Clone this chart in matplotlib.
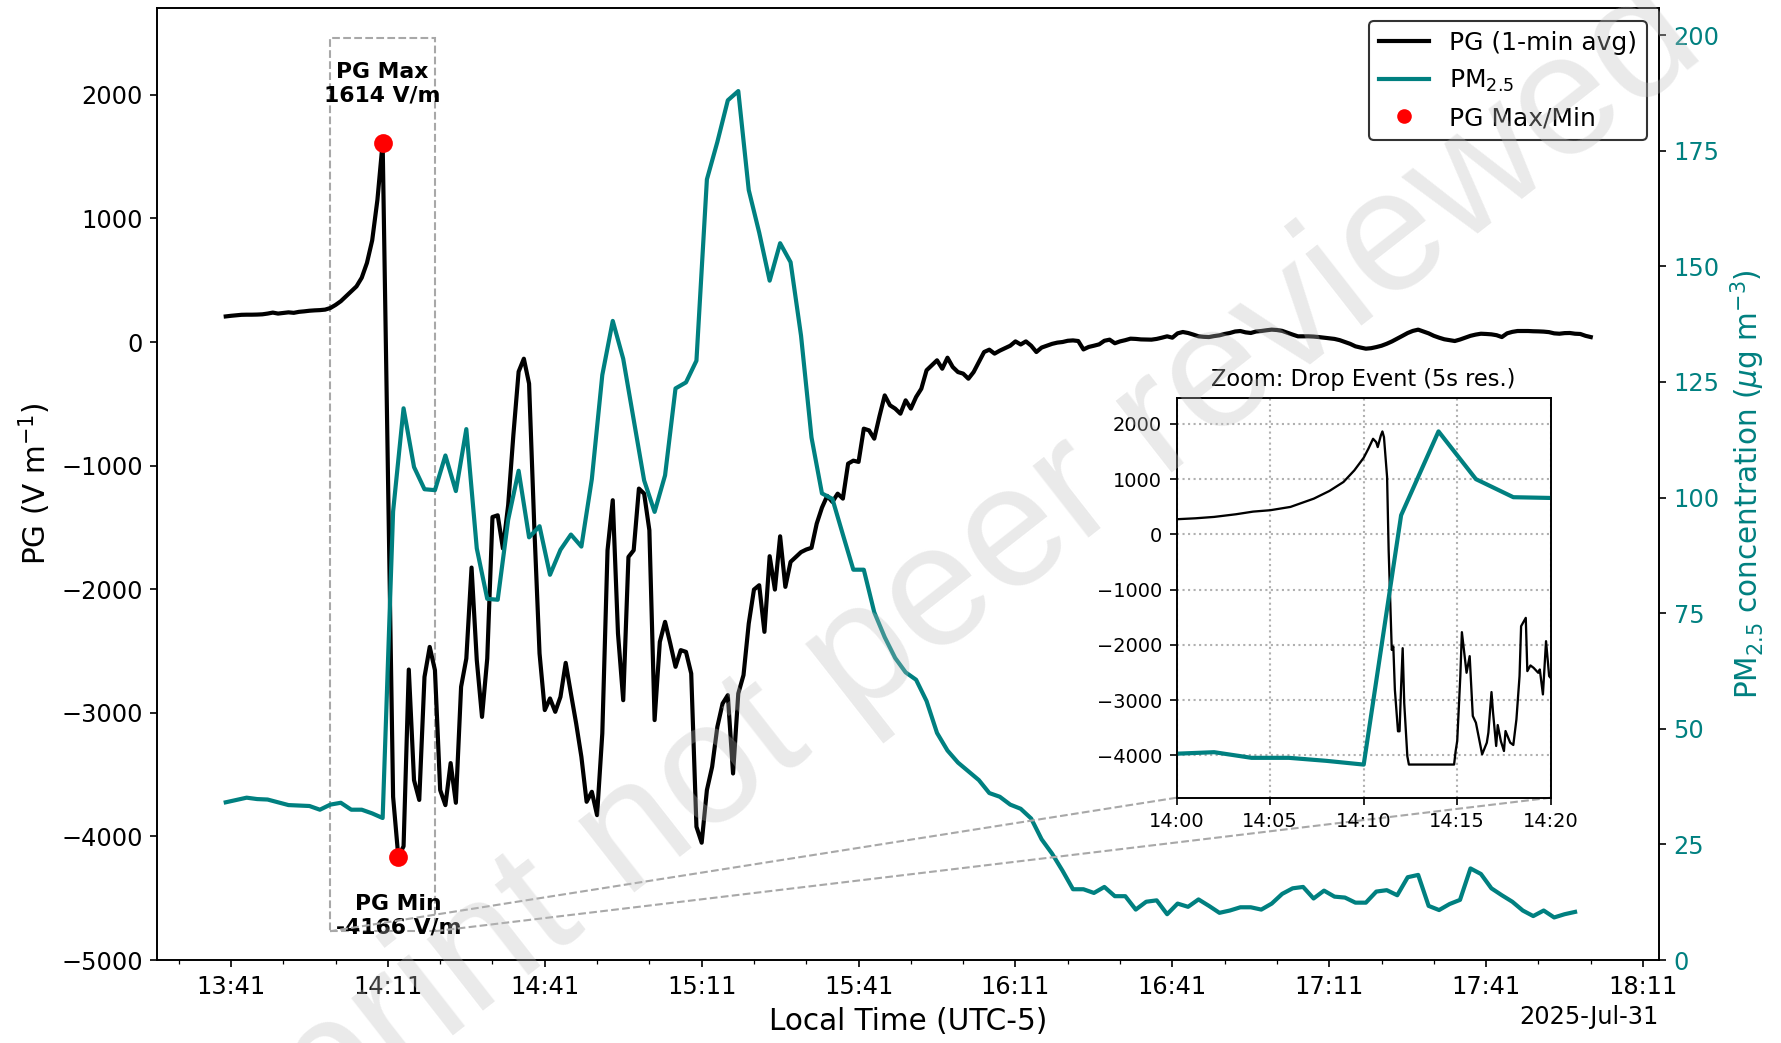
import numpy as np
import pandas as pd
import matplotlib
matplotlib.use("Agg")
import matplotlib.pyplot as plt
import matplotlib.dates as mdates
from matplotlib.lines import Line2D
from matplotlib.ticker import MultipleLocator
from mpl_toolkits.axes_grid1.inset_locator import mark_inset

# ---------------- data ----------------
pg_start = "2025-07-31 13:40"          # 1-min averaged PG, V/m
pg_values = [
    207, 212, 216, 220, 221, 221, 222, 224, 230, 238,
    230, 235, 240, 236, 244, 248, 253, 256, 258, 262,
    275, 300, 330, 370, 410, 450, 520, 640, 822, 1150,
    1614, -1030, -3680, -4166, -4080, -2650, -3545, -3705, -2710, -2467,
    -2655, -3625, -3747, -3407, -3728, -2790, -2561, -1825, -2574, -3033,
    -2561, -1416, -1402, -1671, -1320, -750, -240, -135, -337, -1500,
    -2520, -2978, -2884, -2992, -2871, -2596, -2844, -3086, -3356, -3720,
    -3639, -3828, -3167, -1685, -1280, -2359, -2898, -1739, -1685, -1186,
    -1227, -1523, -3059, -2426, -2264, -2440, -2628, -2493, -2507, -2682,
    -3922, -4051, -3625, -3437, -3113, -2925, -2857, -3491, -2844, -2695,
    -2278, -2003, -1968, -2345, -1733, -2003, -1572, -1981, -1779, -1739,
    -1700, -1679, -1665, -1469, -1340, -1245, -1294, -1227, -1267, -984,
    -960, -970, -701, -715, -782, -600, -432, -512, -539, -580,
    -472, -539, -445, -378, -229, -189, -148, -216, -127, -202,
    -243, -256, -297, -243, -162, -81, -62, -94, -70, -50,
    -30, 5, -20, 5, -30, -81, -45, -30, -15, -5,
    0, 10, 13, 8, -60, -40, -30, -19, 10, 19,
    -10, 5, 15, 27, 25, 21, 20, 19, 25, 35,
    46, 35, 70, 81, 73, 60, 46, 42, 40, 48,
    54, 65, 73, 85, 89, 78, 73, 85, 89, 95,
    100, 97, 90, 75, 60, 46, 46, 46, 44, 40,
    35, 30, 25, 15, 0, -15, -35, -45, -54, -50,
    -41, -30, -14, 5, 27, 50, 73, 90, 100, 85,
    70, 50, 35, 22, 15, 8, 20, 35, 50, 60,
    67, 65, 62, 55, 40, 70, 82, 89, 89, 89,
    87, 86, 84, 80, 70, 67, 72, 73, 67, 65,
    50, 40,
]

pm_start = "2025-07-31 13:40"          # PM2.5 every 2 min, ug/m3
pm_values = [
    34.1, 34.6, 35.1, 34.8, 34.7, 34.1, 33.5, 33.4, 33.3, 32.5,
    33.6, 34.0, 32.5, 32.5, 31.7, 30.7, 97.0, 119.3, 106.6, 101.8,
    101.6, 109.1, 101.4, 114.8, 89.0, 78.1, 77.9, 95.2, 105.8, 91.4,
    93.8, 83.3, 88.7, 92.0, 89.4, 104.0, 126.5, 138.2, 130.0, 116.8,
    103.7, 96.9, 104.8, 123.6, 124.9, 129.6, 168.8, 176.9, 185.9, 187.9,
    166.5, 157.3, 146.9, 155.0, 150.9, 135.0, 113.0, 100.9, 99.7, 92.0,
    84.4, 84.4, 75.2, 69.8, 65.3, 62.2, 60.6, 56.0, 49.1, 45.3,
    42.7, 40.8, 38.9, 36.1, 35.3, 33.6, 32.7, 30.6, 26.1, 23.0,
    19.3, 15.3, 15.3, 14.5, 15.8, 13.8, 13.8, 10.9, 12.6, 12.9,
    9.9, 12.2, 11.5, 13.1, 11.7, 10.2, 10.7, 11.4, 11.4, 10.9,
    12.2, 14.3, 15.5, 15.8, 13.3, 15.0, 13.7, 13.5, 12.4, 12.4,
    14.8, 15.1, 14.0, 17.9, 18.4, 11.7, 10.8, 12.1, 13.0, 19.8,
    18.6, 15.5, 14.0, 12.6, 10.7, 9.5, 10.7, 9.2, 9.9, 10.4,
]

zoom_start = "2025-07-31 14:00"        # 5-s PG during the drop event
zoom_seconds = [
    0, 60, 120, 190, 245, 300, 365, 440, 490, 535,
    570, 600, 615, 630, 640, 645, 655, 660, 665, 675,
    680, 690, 695, 700, 710, 715, 720, 725, 730, 740,
    745, 890, 895, 900, 910, 915, 930, 940, 950, 960,
    980, 995, 1000, 1010, 1015, 1025, 1030, 1040, 1050, 1055,
    1070, 1080, 1090, 1100, 1105, 1120, 1125, 1135, 1145, 1160,
    1165, 1175, 1185, 1195, 1200,
]
zoom_pg = [
    273, 290, 315, 363, 411, 436, 496, 646, 785, 947,
    1158, 1386, 1549, 1729, 1669, 1579, 1789, 1862, 1759, 1037,
    -287, -2092, -2031, -2814, -3565, -3565, -2753, -2061, -3054, -4017,
    -4167, -4167, -3922, -3741, -2566, -1771, -2506, -2205, -3289, -3410,
    -3982, -3771, -3590, -2855, -3229, -3831, -3452, -3741, -3922, -3560,
    -3771, -3813, -3349, -2566, -1663, -1512, -2476, -2373, -2416, -2506,
    -2446, -2898, -1934, -2566, -2600,
]

# ---------------- style ----------------
plt.rcParams["font.family"] = ["DejaVu Sans"]
plt.rcParams["xtick.labelsize"] = 11.5
plt.rcParams["ytick.labelsize"] = 11.5

TEAL = "teal"

pg = np.array(pg_values, dtype=float)
pm = np.array(pm_values, dtype=float)
zpg = np.array(zoom_pg, dtype=float)
pg_t = mdates.date2num(pd.date_range(pg_start, periods=len(pg), freq="1min").to_pydatetime())
pm_t = mdates.date2num(pd.date_range(pm_start, periods=len(pm), freq="2min").to_pydatetime())
z0 = pd.Timestamp(zoom_start)
zoom_t = mdates.date2num([(z0 + pd.Timedelta(seconds=s)).to_pydatetime() for s in zoom_seconds])

fig = plt.figure(figsize=(11.8734, 6.9534), dpi=150)
ax1 = fig.add_axes([0.08843, 0.07958, 0.84307, 0.91246])

ax1.plot(pg_t, pg, color="black", lw=2, zorder=2)
imax, imin = int(np.argmax(pg)), int(np.argmin(pg))
ax1.scatter([pg_t[imax], pg_t[imin]], [pg[imax], pg[imin]], s=64, color="red", zorder=5)
ax1.annotate(f"PG Max\n{pg[imax]:.0f} V/m", xy=(pg_t[imax], pg[imax]), xytext=(0, 18),
             textcoords="offset points", ha="center", va="bottom",
             fontsize=10.5, fontweight="bold", multialignment="center")
ax1.annotate(f"PG Min\n{pg[imin]:.0f} V/m", xy=(pg_t[imin], pg[imin]), xytext=(0, -18),
             textcoords="offset points", ha="center", va="top",
             fontsize=10.5, fontweight="bold", multialignment="center")
ax1.set_ylim(-5000, 2700)
ax1.set_ylabel("PG (V m$^{-1}$)", fontsize=14.2)
ax1.set_xlabel("Local Time (UTC-5)", fontsize=14.2)

major = mdates.MinuteLocator(byminute=[11, 41])
ax1.xaxis.set_major_locator(major)
ax1.xaxis.set_minor_locator(mdates.MinuteLocator(byminute=[1, 11, 21, 31, 41, 51]))
ax1.xaxis.set_major_formatter(mdates.ConciseDateFormatter(major))

ax2 = ax1.twinx()
ax2.plot(pm_t, pm, color=TEAL, lw=2)
ax2.set_ylim(0, 205.8)
ax2.yaxis.set_major_locator(MultipleLocator(25))
ax2.tick_params(axis="y", labelcolor=TEAL)
ax2.set_ylabel("PM$_{2.5}$ concentration ($\\mu$g m$^{-3}$)", color=TEAL, fontsize=14.2)

handles = [Line2D([], [], color="black", lw=2),
           Line2D([], [], color=TEAL, lw=2),
           Line2D([], [], marker="o", ls="none", color="red", markersize=6)]
labels = ["PG (1-min avg)", "PM$_{2.5}$", "PG Max/Min"]
ax2.legend(handles, labels, loc="upper right", fontsize=12, edgecolor="black")

# ---------------- inset ----------------
axins = fig.add_axes([0.66070, 0.23519, 0.20999, 0.38293])
axins.plot(zoom_t, zpg, color="black", lw=1.1)
axins.set_xlim(zoom_t[0], zoom_t[-1])
axins.set_ylim(zpg.min() - 600, zpg.max() + 600)
axins.grid(True, linestyle=":", color="#b0b0b0", lw=1.0)
axins.xaxis.set_major_locator(mdates.MinuteLocator(byminute=range(0, 60, 5)))
axins.xaxis.set_major_formatter(mdates.DateFormatter("%H:%M"))
axins.tick_params(labelsize=9.3)
axins.set_title("Zoom: Drop Event (5s res.)", fontsize=10.8)
axins2 = axins.twinx()
axins2.plot(pm_t, pm, color=TEAL, lw=2)
axins2.set_xlim(zoom_t[0], zoom_t[-1])
axins2.set_ylim(21.9, 128.1)
axins2.set_yticks([])

mark_inset(ax1, axins, loc1=3, loc2=4, fc="none", ec="#a8a8a8", ls="--", lw=1.0)

# ---------------- watermark ----------------
fig.text(0.4955, 0.384, "Preprint not peer reviewed", fontsize=83,
         family=["Liberation Sans", "DejaVu Sans"], color="0.75", alpha=0.32,
         rotation=38, rotation_mode="anchor", ha="center", va="center", zorder=10)

fig.savefig("out.png", dpi=150)
